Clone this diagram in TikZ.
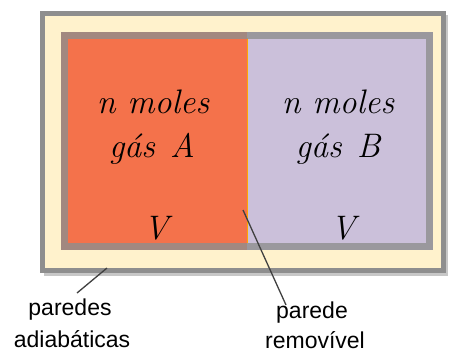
\documentclass[tikz,border=0pt]{standalone}
\usepackage{fontspec}
\newfontfamily\labelfont{Liberation Sans}
\definecolor{cream}{HTML}{FFF2CC}
\definecolor{gasA}{HTML}{F4724B}
\definecolor{gasB}{HTML}{CBC0DA}
\definecolor{wallgray}{HTML}{8E8E8E}
\definecolor{leadgray}{HTML}{404040}
\tikzset{
  gastext/.style={anchor=base, inner sep=0pt, font=\fontsize{34}{40}\selectfont\itshape},
  labeltext/.style={anchor=base, inner sep=0pt, font=\fontsize{23}{27}\selectfont\labelfont, text=black},
  leader/.style={draw=leadgray, line width=1.3pt},
  wall/.style={draw=wallgray, inner sep=0pt, outer sep=0pt, anchor=north west},
}
\begin{document}
\begin{tikzpicture}[x=1pt,y=-1pt]
\useasboundingbox (0,0) rectangle (449,354);
% outer adiabatic box
\fill[black!22] (44,15) rectangle (448,276);
\node[wall, line width=5pt, fill=cream, minimum width=401pt, minimum height=257pt] (outer) at (42.5,13.5) {};
% gas compartments
\fill[gasA] (61,32) rectangle (247,250);
\fill[gasB] (247,32) rectangle (433,250);
\draw[draw=orange!70!yellow, line width=1pt] (247,38) -- (247,243);
\node[wall, draw opacity=0.8, line width=7pt, minimum width=365pt, minimum height=211pt] (inner) at (64.5,35.5) {};
% texts
\node[gastext] (nA) at (153,113) {n moles};
\node[gastext] (gA) at (152,157) {gás\hspace{0.45em}A};
\node[gastext] (vA) at (156,239) {V};
\node[gastext] (nB) at (338,113) {n moles};
\node[gastext] (gB) at (338,157) {gás\hspace{0.45em}B};
\node[gastext] (vB) at (343,239) {V};
% labels
\node[labeltext] (lp1) at (70,315) {paredes};
\node[labeltext] (lp2) at (72,347) {adiabáticas};
\node[labeltext] (lr1) at (312,318) {parede};
\node[labeltext] (lr2) at (315,348) {removível};
% leaders
\coordinate (wallpt) at (107,268);
\coordinate (divpt) at (243,210);
\coordinate (lpend) at (77,293);
\coordinate (lrend) at (286,305);
\draw[leader] (wallpt) -- (lpend);
\draw[leader] (divpt) -- (lrend);
\end{tikzpicture}
\end{document}
